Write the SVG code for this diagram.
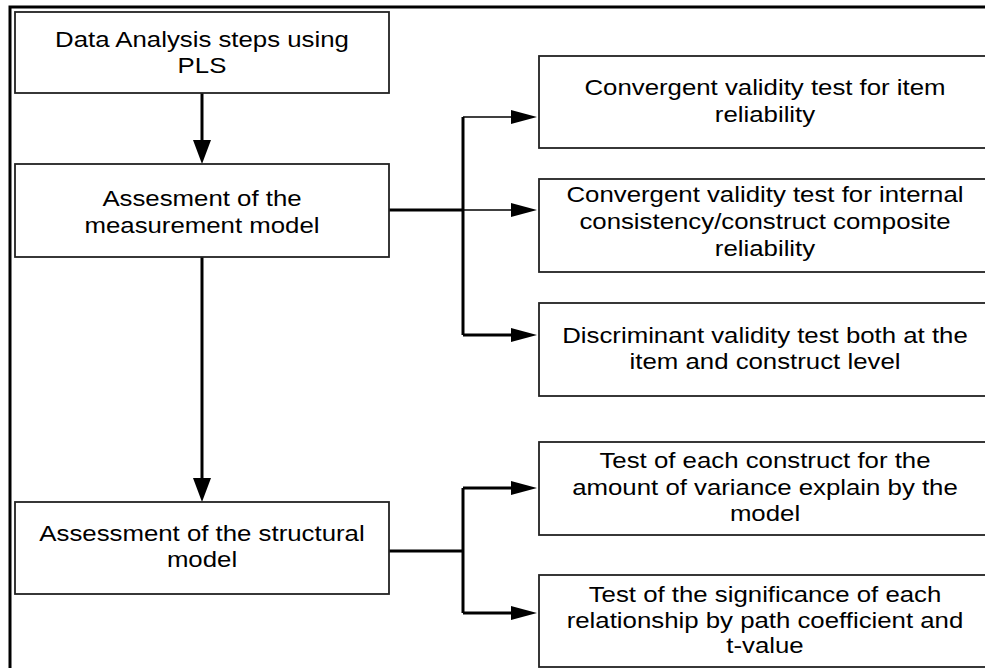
<svg xmlns="http://www.w3.org/2000/svg" width="985" height="668" viewBox="0 0 985 668">
  <style>
    .box { fill: #ffffff; stroke: #222222; stroke-width: 1.8; }
    .lbl { font-family: "Liberation Sans", Arial, sans-serif; font-size: 21.5px; fill: #000000; text-anchor: middle; }
    .thick { fill: none; stroke: #000000; stroke-width: 3; }
    .thin { fill: none; stroke: #000000; stroke-width: 1.5; }
    .frame { fill: none; stroke: #000000; stroke-width: 3; }
  </style>
  <defs>
    <marker id="headDown" viewBox="0 0 24 18" refX="0" refY="9" markerWidth="24" markerHeight="18" orient="auto" markerUnits="userSpaceOnUse">
      <path d="M0,0 L24,9 L0,18 Z" fill="#000"/>
    </marker>
    <marker id="headSide" viewBox="0 0 26 14" refX="0" refY="7" markerWidth="26" markerHeight="14" orient="auto" markerUnits="userSpaceOnUse">
      <path d="M0,0 L26,7 L0,14 Z" fill="#000"/>
    </marker>
  </defs>

  <rect x="0" y="0" width="985" height="668" fill="#ffffff"/>
  <path class="frame" d="M10,668 V7 H985"/>

  <!-- connectors -->
  <g id="connectors">
    <path class="thick" d="M202,93 V140" marker-end="url(#headDown)"/>
    <path class="thick" d="M202,257 V478" marker-end="url(#headDown)"/>

    <!-- measurement model branches -->
    <path class="thick" d="M389,210 H463"/>
    <path class="thick" d="M463,117 V335"/>
    <path class="thin" d="M463,117 H511" marker-end="url(#headSide)"/>
    <path class="thin" d="M463,210 H511" marker-end="url(#headSide)"/>
    <path class="thick" d="M463,335 H511" marker-end="url(#headSide)"/>

    <!-- structural model branches -->
    <path class="thick" d="M389,551 H463"/>
    <path class="thick" d="M463,488 V613"/>
    <path class="thick" d="M463,488 H511" marker-end="url(#headSide)"/>
    <path class="thick" d="M463,613 H511" marker-end="url(#headSide)"/>
  </g>

  <g id="pls-steps">
    <rect class="box" x="15" y="12" width="374" height="81"/>
    <g transform="translate(202 0) scale(1.2 1)">
      <text class="lbl" x="0" y="47">Data Analysis steps using</text>
      <text class="lbl" x="0" y="73">PLS</text>
    </g>
  </g>

  <g id="measurement-model">
    <rect class="box" x="15" y="164" width="374" height="93"/>
    <g transform="translate(202 0) scale(1.2 1)">
      <text class="lbl" x="0" y="206">Assesment of the</text>
      <text class="lbl" x="0" y="233">measurement model</text>
    </g>
  </g>

  <g id="structural-model">
    <rect class="box" x="15" y="502" width="374" height="92"/>
    <g transform="translate(202 0) scale(1.2 1)">
      <text class="lbl" x="0" y="541">Assessment of the structural</text>
      <text class="lbl" x="0" y="567">model</text>
    </g>
  </g>

  <g id="item-reliability">
    <rect class="box" x="539" y="56" width="452" height="92"/>
    <g transform="translate(765 0) scale(1.2 1)">
      <text class="lbl" x="0" y="95">Convergent validity test for item</text>
      <text class="lbl" x="0" y="122">reliability</text>
    </g>
  </g>

  <g id="composite-reliability">
    <rect class="box" x="539" y="179" width="452" height="93"/>
    <g transform="translate(765 0) scale(1.2 1)">
      <text class="lbl" x="0" y="202">Convergent validity test for internal</text>
      <text class="lbl" x="0" y="229">consistency/construct composite</text>
      <text class="lbl" x="0" y="256">reliability</text>
    </g>
  </g>

  <g id="discriminant-validity">
    <rect class="box" x="539" y="303" width="452" height="93"/>
    <g transform="translate(765 0) scale(1.2 1)">
      <text class="lbl" x="0" y="343">Discriminant validity test both at the</text>
      <text class="lbl" x="0" y="369">item and construct level</text>
    </g>
  </g>

  <g id="variance-explained">
    <rect class="box" x="539" y="442" width="452" height="93"/>
    <g transform="translate(765 0) scale(1.2 1)">
      <text class="lbl" x="0" y="468">Test of each construct for the</text>
      <text class="lbl" x="0" y="495">amount of variance explain by the</text>
      <text class="lbl" x="0" y="521">model</text>
    </g>
  </g>

  <g id="path-significance">
    <rect class="box" x="539" y="575" width="452" height="92"/>
    <g transform="translate(765 0) scale(1.2 1)">
      <text class="lbl" x="0" y="602">Test of the significance of each</text>
      <text class="lbl" x="0" y="628">relationship by path coefficient and</text>
      <text class="lbl" x="0" y="653">t-value</text>
    </g>
  </g>
</svg>
